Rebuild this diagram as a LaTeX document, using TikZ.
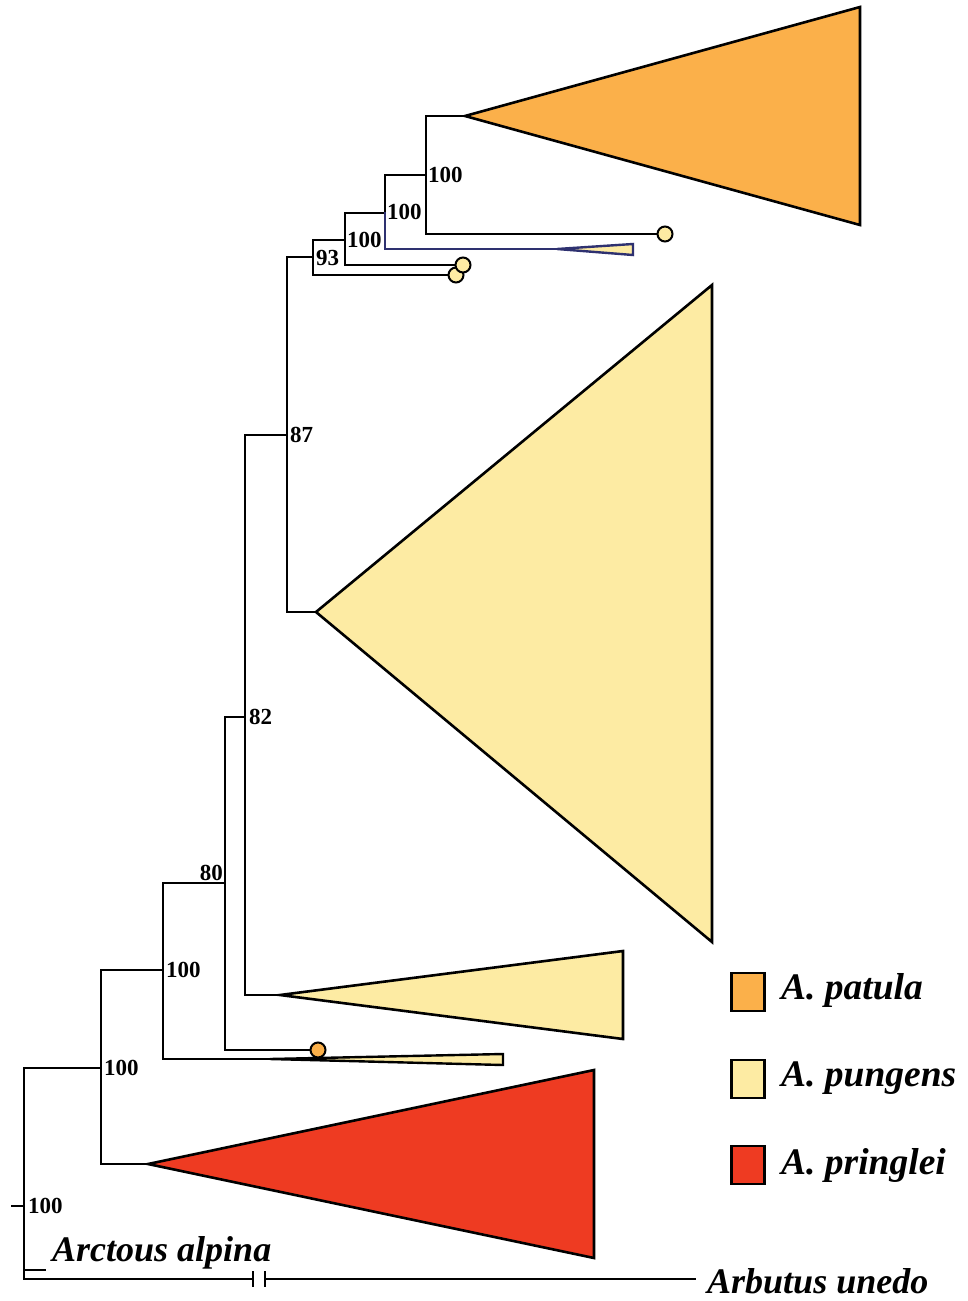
\documentclass[tikz,border=0pt]{standalone}
\usepackage{fontspec}
\setmainfont{Liberation Serif}
\definecolor{patula}{HTML}{FBB04A}
\definecolor{pungens}{HTML}{FDEBA3}
\definecolor{pringlei}{HTML}{EE3B22}
\definecolor{bluebr}{HTML}{2E3170}
\begin{document}
\begin{tikzpicture}[x=1pt,y=-1pt,
  br/.style={line width=2.8pt,line cap=rect,line join=miter},
  clade/.style={line width=2.6pt,line join=miter,draw=black},
  tipdot/.style={circle,draw=black,line width=2pt,minimum size=15pt,inner sep=0pt},
  bs/.style={font=\bfseries\fontsize{23}{23}\selectfont,inner sep=0pt},
  taxon/.style={font=\bfseries\itshape\fontsize{36}{36}\selectfont,inner sep=0pt,anchor=west},
  legbox/.style={draw=black,line width=2.4pt,minimum width=33pt,minimum height=38pt,inner sep=0pt},
  legtxt/.style={font=\bfseries\itshape\fontsize{37.5}{37.5}\selectfont,inner sep=0pt,anchor=west}]
\useasboundingbox (0,0) rectangle (968,1301);
% tree node coordinates
\coordinate (root) at (24,1206);
\coordinate (rt) at (12,1206);
\coordinate (nA) at (101,1068);
\coordinate (nB) at (163,970);
\coordinate (nC) at (225,883);
\coordinate (nD) at (245,717);
\coordinate (nE) at (287,435);
\coordinate (nF) at (313,257);
\coordinate (nG) at (345,240);
\coordinate (nH) at (385,213);
\coordinate (nI) at (426,175);
% root
\draw[br] (rt) -- (root);
\draw[br] (24,1068) -- (24,1279);
\draw[br] (24,1068) -- (nA);
\coordinate (arct) at (45,1270);
\draw[br] (24,1270) -- (arct);
\coordinate (brk1) at (253,1279);
\coordinate (brk2) at (265,1279);
\coordinate (arbu) at (695,1279);
\draw[br] (24,1279) -- (brk1);
\draw[br] (brk2) -- (arbu);
\draw[line width=2.8pt] (253,1271) -- (253,1287);
\draw[line width=2.8pt] (265,1271) -- (265,1287);
% node A
\draw[br] (101,970) -- (101,1164);
\draw[br] (101,970) -- (nB);
\coordinate (triR) at (148,1164);
\draw[br] (101,1164) -- (triR);
\draw[clade,fill=pringlei] (triR) -- (594,1070) -- (594,1258) -- cycle;
% node B
\draw[br] (163,883) -- (163,1059);
\draw[br] (163,883) -- (nC);
\coordinate (triS) at (270,1059);
\draw[br] (163,1059) -- (triS);
\draw[line width=2.4pt,fill=pungens,line join=miter] (triS) -- (503,1054) -- (503,1065) -- cycle;
% node C
\draw[br] (225,717) -- (225,1050);
\draw[br] (225,717) -- (nD);
\node[tipdot,fill=patula] (dotC) at (318,1050) {};
\draw[br] (225,1050) -- (dotC.west);
% node D
\draw[br] (245,435) -- (245,995);
\draw[br] (245,435) -- (nE);
\coordinate (triM) at (280,995);
\draw[br] (245,995) -- (triM);
\draw[clade,fill=pungens] (triM) -- (623,951) -- (623,1039) -- cycle;
% node E
\draw[br] (287,257) -- (287,612);
\draw[br] (287,257) -- (nF);
\coordinate (triB) at (316,612);
\draw[br] (287,612) -- (triB);
\draw[clade,fill=pungens] (triB) -- (712,285) -- (712,942) -- cycle;
% node F
\draw[br] (313,240) -- (313,275);
\draw[br] (313,240) -- (nG);
\node[tipdot,fill=pungens] (dotF) at (456,275) {};
\draw[br] (313,275) -- (dotF.west);
% node G
\draw[br] (345,213) -- (345,265);
\draw[br] (345,213) -- (nH);
\node[tipdot,fill=pungens] (dotG) at (463,265) {};
\draw[br] (345,265) -- (dotG.west);
% node H
\draw[br] (385,175) -- (nH);
\draw[br,draw=bluebr] (nH) -- (385,249);
\draw[br] (385,175) -- (nI);
\coordinate (triT) at (557,249);
\draw[br,draw=bluebr] (385,249) -- (triT);
\draw[line width=2.4pt,draw=bluebr,fill=pungens,line join=miter] (triT) -- (633,244) -- (633,255) -- cycle;
% node I
\draw[br] (426,116) -- (426,234);
\coordinate (triP) at (465,116);
\draw[br] (426,116) -- (triP);
\draw[clade,fill=patula] (triP) -- (860,7) -- (860,225) -- cycle;
\node[tipdot,fill=pungens] (dotI) at (665,234) {};
\draw[br] (426,234) -- (dotI.west);
% bootstrap labels
\node[bs,anchor=west] (lroot) at (28,1206) {100};
\node[bs,anchor=west] (lA) at (104,1068) {100};
\node[bs,anchor=west] (lB) at (166,970) {100};
\node[bs,anchor=base east] (lC) at (223,880) {80};
\node[bs,anchor=west] (lD) at (249,717) {82};
\node[bs,anchor=west] (lE) at (290,435) {87};
\node[bs,anchor=west] (lF) at (316,258) {93};
\node[bs,anchor=west] (lG) at (347,240) {100};
\node[bs,anchor=west] (lH) at (387,212) {100};
\node[bs,anchor=west] (lI) at (428,175) {100};
% taxa
\node[taxon] (tArct) at (52,1253) {Arctous alpina};
\node[taxon] (tArbu) at (707,1281) {Arbutus unedo};
% legend
\node[legbox,fill=patula] (k1) at (748,992) {};
\node[legbox,fill=pungens] (k2) at (748,1079) {};
\node[legbox,fill=pringlei] (k3) at (748,1165) {};
\node[legtxt] (t1) at (781,990) {A. patula};
\node[legtxt] (t2) at (781,1078) {A. pungens};
\node[legtxt] (t3) at (781,1165) {A. pringlei};
\end{tikzpicture}
\end{document}
